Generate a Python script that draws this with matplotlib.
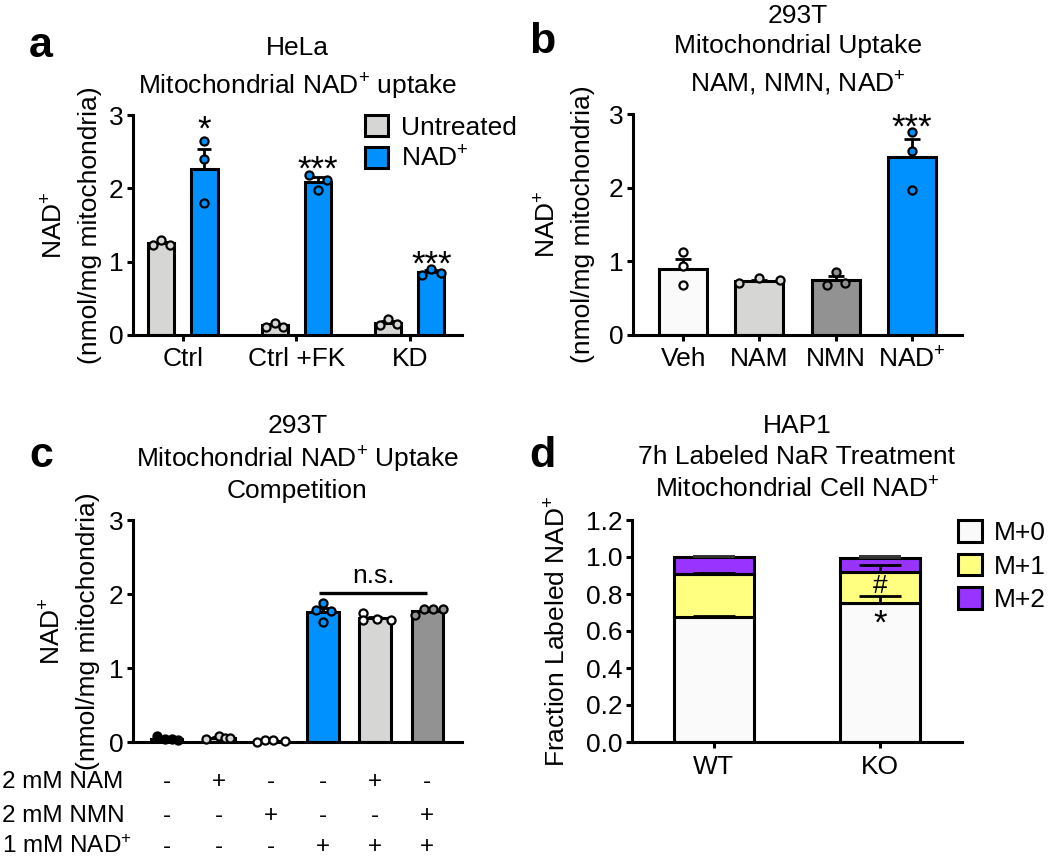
import numpy as np
import matplotlib
matplotlib.use("Agg")
import matplotlib.pyplot as plt

plt.rcParams['font.family'] = ['Liberation Sans', 'DejaVu Sans']
plt.rcParams['mathtext.fontset'] = 'custom'
plt.rcParams['mathtext.rm'] = 'Liberation Sans'
plt.rcParams['mathtext.it'] = 'Liberation Sans:italic'
plt.rcParams['mathtext.bf'] = 'Liberation Sans:bold'

NADP = r'NA$\mathrm{D}^{+}$'

# ---------------- data ----------------
# Panel a
a_groups = ['Ctrl', 'Ctrl +FK', 'KD']
a_untreated = [1.25, 0.13, 0.17]
a_nad = [2.27, 2.09, 0.86]
a_untreated_err = [0.02, 0.015, 0.025]
a_nad_err = [0.26, 0.06, 0.03]
a_untreated_pts = [[1.23, 1.29, 1.23], [0.11, 0.16, 0.11], [0.14, 0.22, 0.15]]
a_nad_pts = [[2.64, 2.40, 1.80], [2.18, 1.98, 2.11], [0.82, 0.90, 0.85]]
a_sig = ['*', '***', '***']

# Panel b
b_groups = ['Veh', 'NAM', 'NMN', NADP]
b_vals = [0.90, 0.73, 0.74, 2.41]
b_err = [0.13, 0.02, 0.06, 0.25]
b_pts = [[1.12, 0.93, 0.68], [0.70, 0.77, 0.75], [0.68, 0.85, 0.71], [2.76, 2.50, 1.97]]
b_sig = ['', '', '', '***']

# Panel c
c_vals = [0.04, 0.06, 0.02, 1.76, 1.67, 1.77]
c_err = [0.01, 0.01, 0.005, 0.05, 0.02, 0.02]
c_pts = [[0.08, 0.04, 0.04, 0.03], [0.04, 0.08, 0.06, 0.05], [0.00, 0.03, 0.03, 0.02],
         [1.88, 1.78, 1.77, 1.62], [1.74, 1.65, 1.66, 1.65], [1.72, 1.80, 1.80, 1.80]]
c_row_labels = ['2 mM NAM', '2 mM NMN', '1 mM ' + NADP]
c_nam = ['-', '+', '-', '-', '+', '-']
c_nmn = ['-', '-', '+', '-', '-', '+']
c_nad = ['-', '-', '-', '+', '+', '+']

# Panel d
d_groups = ['WT', 'KO']
d_series = ['M+0', 'M+1', 'M+2']
d_m0 = [0.675, 0.75]
d_m1 = [0.235, 0.17]
d_m2 = [0.09, 0.075]
d_m0_err = [0.006, 0.04]
d_m1_err = [0.006, 0.035]
d_m2_err = [0.003, 0.012]

# ---------------- style ----------------
WHITE = '#fafafa'
LGRAY = '#d6d6d4'
DGRAY = '#929292'
BLUE = '#0091ff'
YELLOW = '#ffff80'
PURPLE = '#9933ff'
LW = 2.2
FS = 19
SIGFS = 25

fig = plt.figure(figsize=(10.5, 8.58), dpi=100)
W, H = 1050, 858


def add_ax(l, r, t, b):
    return fig.add_axes([l / W, 1 - b / H, (r - l) / W, (b - t) / H])


def style(ax):
    for s in ['top', 'right']:
        ax.spines[s].set_visible(False)
    for s in ['left', 'bottom']:
        ax.spines[s].set_linewidth(LW)
    ax.tick_params(direction='out', length=4, width=LW, labelsize=FS, pad=3)
    ax.tick_params(axis='x', pad=5)


def pts(ax, x, ys, offsets, width, face):
    xs = [x + o * width for o in offsets]
    ax.scatter(xs, ys, s=34, facecolor=face, edgecolor='black', linewidths=1.6,
               zorder=5, clip_on=False)


def errs(ax, x, y, e, cap=5.5):
    ax.errorbar(x, y, yerr=[[0] * len(np.atleast_1d(e)), np.atleast_1d(e)], fmt='none',
                ecolor='black', elinewidth=2.0, capsize=cap, capthick=2.0, zorder=4)


def ylab(ax, lines, xs):
    for txt, xx in zip(lines, xs):
        ax.text(xx, 0.5, txt, transform=ax.transAxes, rotation=90, ha='center',
                va='center', fontsize=FS)


def titles(lines, x, baselines):
    for txt, yb in zip(lines, baselines):
        fig.text(x / W, 1 - yb / H, txt, ha='center', va='baseline', fontsize=FS)


def letter(txt, x, yb):
    fig.text(x / W, 1 - yb / H, txt, ha='left', va='baseline', fontsize=31,
             fontweight='bold')

# ---------------- panel a ----------------
ax = add_ax(133, 462, 115, 335)
style(ax)
xa = np.arange(len(a_groups))
bw = 0.23
off = 0.19
b1 = ax.bar(xa - off, a_untreated, bw, color=LGRAY, edgecolor='black', linewidth=LW,
            label='Untreated', zorder=2)
b2 = ax.bar(xa + off, a_nad, bw, color=BLUE, edgecolor='black', linewidth=LW,
            label=NADP, zorder=2)
errs(ax, xa - off, a_untreated, a_untreated_err, 5)
errs(ax, xa + off, a_nad, a_nad_err, 5)
a_off_u = [[-0.33, 0, 0.33]] * 3
a_off_n = [[0, 0, 0], [-0.35, 0, 0.35], [-0.35, 0, 0.35]]
for i in range(3):
    pts(ax, xa[i] - off, a_untreated_pts[i], a_off_u[i], bw, LGRAY)
    pts(ax, xa[i] + off, a_nad_pts[i], a_off_n[i], bw, BLUE)
a_sig_y = [2.66, 2.12, 0.83]
for i in range(3):
    ax.text(xa[i] + off, a_sig_y[i], a_sig[i], ha='center', va='baseline', fontsize=SIGFS)
ax.set_xlim(-0.44, 2.46)
ax.set_ylim(0, 3)
ax.set_yticks([0, 1, 2, 3])
ax.set_xticks(xa)
ax.set_xticklabels(a_groups)
ylab(ax, [NADP, '(nmol/mg mitochondria)'], [-0.237, -0.131])
ax.legend(handles=[b1, b2], loc='upper left', bbox_to_anchor=(0.705, 1.0), frameon=False,
          borderpad=0, borderaxespad=0, handlelength=0.87, handleheight=0.87,
          handletextpad=0.5, labelspacing=0.25, fontsize=FS)
titles(['HeLa', 'Mitochondrial ' + NADP + ' uptake'], 297.5, [55, 94])
letter('a', 29, 57)

# ---------------- panel b ----------------
ax = add_ax(633, 962, 114, 335)
style(ax)
xb = np.arange(len(b_groups))
bwb = 0.63
b_colors = [WHITE, LGRAY, DGRAY, BLUE]
ax.bar(xb, b_vals, bwb, color=b_colors, edgecolor='black', linewidth=LW, zorder=2)
errs(ax, xb, b_vals, b_err, 6)
b_offs = [[0, 0, 0], [-0.43, 0, 0.43], [-0.18, 0, 0.19], [0, 0, 0]]
for i in range(4):
    pts(ax, xb[i], b_pts[i], b_offs[i], bwb, b_colors[i])
ax.text(xb[3], 2.68, b_sig[3], ha='center', va='baseline', fontsize=SIGFS)
ax.set_xlim(-0.66, 3.66)
ax.set_ylim(0, 3)
ax.set_yticks([0, 1, 2, 3])
ax.set_xticks(xb)
ax.set_xticklabels(b_groups)
ylab(ax, [NADP, '(nmol/mg mitochondria)'], [-0.258, -0.152])
titles(['293T', 'Mitochondrial Uptake', 'NAM, NMN, ' + NADP], 797.5, [23, 53, 92])
letter('b', 529, 53)

# ---------------- panel c ----------------
ax = add_ax(133, 462, 520, 742)
style(ax)
xc = np.arange(len(c_vals))
bwc = 0.6
c_colors = [WHITE, LGRAY, DGRAY, BLUE, LGRAY, DGRAY]
c_pt_colors = ['black', LGRAY, WHITE, BLUE, WHITE, DGRAY]
ax.bar(xc, c_vals, bwc, color=c_colors, edgecolor='black', linewidth=LW, zorder=2)
errs(ax, xc, c_vals, c_err, 5)
c_offs = [[-0.3, -0.05, 0.15, 0.35], [-0.4, 0.0, 0.2, 0.35], [-0.45, -0.2, 0.05, 0.45],
          [0.0, -0.22, 0.25, 0.0], [-0.4, -0.4, 0.05, 0.5], [-0.4, -0.1, 0.2, 0.5]]
for i in range(6):
    pts(ax, xc[i], c_pts[i], c_offs[i], bwc, c_pt_colors[i])
ax.plot([xc[3] - 0.08, xc[5]], [2.01, 2.01], color='black', lw=2.4, solid_capstyle='butt')
ax.text((xc[3] + xc[5]) / 2 - 0.04, 2.08, 'n.s.', ha='center', va='bottom', fontsize=FS)
ax.set_xlim(-0.65, 5.67)
ax.set_ylim(0, 3)
ax.set_yticks([0, 1, 2, 3])
ax.set_xticks([])
ylab(ax, [NADP, '(nmol/mg mitochondria)'], [-0.243, -0.137])
trans = ax.get_xaxis_transform()
row_base = [788, 822, 853]
RFS = 17.5
for lab, syms, yb in zip(c_row_labels, [c_nam, c_nmn, c_nad], row_base):
    fig.text(2 / W, 1 - yb / H, lab, ha='left', va='baseline', fontsize=RFS)
    yax = (742 - yb) / 222
    for i, s in enumerate(syms):
        ax.text(xc[i], yax, s, transform=trans, ha='center', va='baseline', fontsize=RFS,
                clip_on=False)
titles(['293T', 'Mitochondrial ' + NADP + ' Uptake', 'Competition'], 297.5, [433, 468, 498])
letter('c', 29, 467)

# ---------------- panel d ----------------
ax = add_ax(632, 962, 520, 742)
style(ax)
xd = np.arange(len(d_groups))
bwd = 0.48
m0 = np.array(d_m0)
m1 = np.array(d_m1)
m2 = np.array(d_m2)
h0 = ax.bar(xd, m0, bwd, color=WHITE, edgecolor='black', linewidth=LW, label=d_series[0], zorder=2)
h1 = ax.bar(xd, m1, bwd, bottom=m0, color=YELLOW, edgecolor='black', linewidth=LW,
            label=d_series[1], zorder=2)
h2 = ax.bar(xd, m2, bwd, bottom=m0 + m1, color=PURPLE, edgecolor='black', linewidth=LW,
            label=d_series[2], zorder=2)
errs(ax, xd, m0, d_m0_err, 15)
errs(ax, xd, m0 + m1, d_m1_err, 15)
ax.errorbar(xd, m0 + m1 + m2, yerr=[[0, 0], d_m2_err], fmt='none', ecolor='#333333',
            elinewidth=1.4, capsize=15, capthick=1.4, zorder=4)
ax.text(xd[1], 0.805, '#', ha='center', va='baseline', fontsize=FS)
ax.text(xd[1], 0.585, '*', ha='center', va='baseline', fontsize=SIGFS)
ax.set_xlim(-0.49, 1.49)
ax.set_ylim(0, 1.2)
ax.set_yticks(np.arange(0, 1.21, 0.2))
ax.set_yticklabels([f'{v:.1f}' for v in np.arange(0, 1.21, 0.2)])
ax.set_xticks(xd)
ax.set_xticklabels(d_groups)
ax.text(-0.224, 0.5, 'Fraction Labeled ' + NADP, transform=ax.transAxes, rotation=90,
        ha='center', va='center', fontsize=FS)
ax.legend(handles=[h0, h1, h2], loc='upper left', bbox_to_anchor=(0.988, 1.0),
          frameon=False, borderpad=0, borderaxespad=0, handlelength=0.9,
          handleheight=0.9, handletextpad=0.45, labelspacing=0.32, fontsize=FS)
titles(['HAP1', '7h Labeled NaR Treatment', 'Mitochondrial Cell ' + NADP], 797, [433, 464, 498])
letter('d', 529, 467)

fig.savefig('out.png', dpi=100)
